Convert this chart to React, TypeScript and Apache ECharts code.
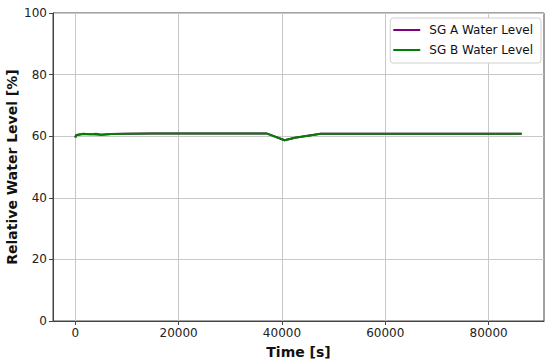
import React, { useEffect, useRef } from "react";
import * as echarts from "echarts";

const timeA = [0, 150, 1500, 3000, 5000, 7000, 10000, 15000, 25000, 37000, 40500, 42500, 47500, 86400];
const levelA = [59.6, 60.3, 60.7, 60.6, 60.5, 60.7, 60.8, 60.9, 60.9, 60.9, 58.7, 59.5, 60.8, 60.8];
const timeB = [0, 150, 1500, 3000, 4000, 5000, 7000, 10000, 15000, 25000, 37000, 40500, 42500, 47500, 86400];
const levelB = [59.5, 60.4, 60.8, 60.6, 60.8, 60.5, 60.7, 60.8, 60.9, 60.9, 60.9, 58.7, 59.5, 60.8, 60.8];
const xTicks = [0, 20000, 40000, 60000, 80000];
const yTicks = [0, 20, 40, 60, 80, 100];

export default function App() {
  const ref = useRef<HTMLDivElement>(null);
  useEffect(() => {
    if (!ref.current) return;
    const chart = echarts.init(ref.current, null, { renderer: "svg" });
    const font = "DejaVu Sans";
    chart.setOption({
      animation: false,
      backgroundColor: "#ffffff",
      textStyle: { fontFamily: font },
      grid: {
        left: 53, right: 6, top: 13, bottom: 41,
        show: true, borderColor: "#444", borderWidth: 1,
        outerBoundsMode: "none", containLabel: false,
      },
      legend: {
        right: 9,
        top: 18,
        orient: "vertical",
        icon: "rect",
        itemWidth: 27,
        itemHeight: 2,
        itemGap: 8,
        backgroundColor: "#fff",
        borderColor: "#d0d0d0",
        borderWidth: 1,
        borderRadius: 3,
        padding: [6, 8, 7, 3],
        textStyle: { fontFamily: font, fontSize: 12, color: "#111", padding: [0, 0, 0, 4] },
        data: ["SG A Water Level", "SG B Water Level"],
      },
      xAxis: {
        type: "value",
        min: -4320,
        max: 90720,
        name: "Time [s]",
        nameLocation: "middle",
        nameGap: 24,
        nameMoveOverlap: false,
        nameTextStyle: { fontFamily: font, fontSize: 14, fontWeight: "bold", color: "#111" },
        axisLine: { show: true, onZero: false, lineStyle: { color: "#444" } },
        axisTick: { show: true, length: 4, lineStyle: { color: "#444" }, customValues: xTicks },
        axisLabel: {
          fontFamily: font, fontSize: 12, color: "#222", margin: 6, customValues: xTicks,
          formatter: (v: number) => String(v),
        },
        splitLine: { show: true, lineStyle: { color: "#c8c8c8", width: 1 } },
      },
      yAxis: {
        type: "value",
        min: 0,
        max: 100,
        interval: 20,
        name: "Relative Water Level [%]",
        nameLocation: "middle",
        nameGap: 34,
        nameMoveOverlap: false,
        nameTextStyle: { fontFamily: font, fontSize: 14, fontWeight: "bold", color: "#111" },
        axisLine: { show: true, onZero: false, lineStyle: { color: "#444" } },
        axisTick: { show: true, length: 4, lineStyle: { color: "#444" } },
        axisLabel: { fontFamily: font, fontSize: 12, color: "#222", margin: 6, formatter: (v: number) => String(v) },
        splitLine: { show: true, lineStyle: { color: "#c8c8c8", width: 1 } },
      },
      series: [
        {
          name: "SG A Water Level",
          type: "line",
          data: timeA.map((t, i) => [t, levelA[i]]),
          showSymbol: false,
          lineStyle: { color: "#800080", width: 2 },
          itemStyle: { color: "#800080" },
        },
        {
          name: "SG B Water Level",
          type: "line",
          data: timeB.map((t, i) => [t, levelB[i]]),
          showSymbol: false,
          lineStyle: { color: "#008000", width: 2 },
          itemStyle: { color: "#008000" },
        },
      ],
    });
    return () => chart.dispose();
  }, []);
  return <div ref={ref} style={{ width: 550, height: 362, position: "absolute", left: 0, top: 0 }} />;
}
